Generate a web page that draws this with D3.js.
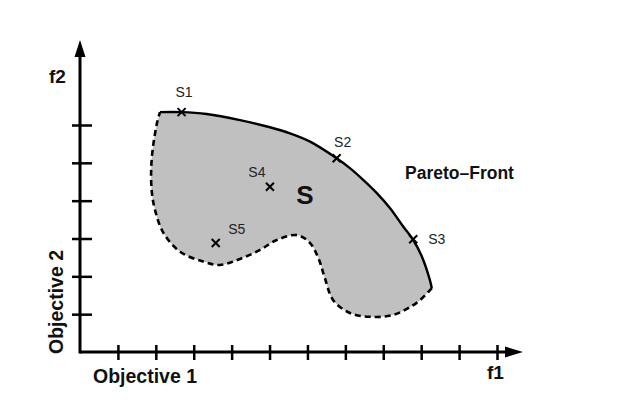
<!DOCTYPE html>
<html>
<head>
<meta charset="utf-8">
<script src="https://cdn.jsdelivr.net/npm/d3@7"></script>
<style>
  html, body { margin: 0; padding: 0; background: #fff; }
  svg { display: block; font-family: "Liberation Sans", Arial, Helvetica, sans-serif; }
</style>
</head>
<body>
<svg id="chart" width="622" height="410"></svg>
<script>
// ---- data (axis units) ----
const xTicks = [1, 2, 3, 4, 5, 6, 7, 8, 9, 10, 11];
const yTicks = [1, 2, 3, 4, 5, 6];

// Pareto front (solid upper-right boundary of the feasible set S)
const frontX = [2.11, 2.68, 3.34, 4.22, 5.01, 5.54, 6.07, 6.77, 7.12, 7.47, 7.83, 8.18, 8.53, 8.79, 9.02, 9.23, 9.28];
const frontY = [6.34, 6.34, 6.29, 6.13, 5.94, 5.78, 5.56, 5.12, 4.86, 4.55, 4.20, 3.80, 3.31, 2.96, 2.52, 1.90, 1.68];

// Remaining (dashed) boundary of S, from the end of the front back to its start
const boundX = [9.28, 9.20, 8.88, 8.26, 7.65, 7.12, 6.68, 6.46, 6.30, 6.07, 5.72, 5.19, 4.75, 4.22, 3.69, 3.25, 2.64, 2.20, 1.98, 1.89, 1.89, 2.02, 2.11];
const boundY = [1.68, 1.60, 1.30, 0.98, 0.93, 1.03, 1.37, 1.95, 2.45, 2.88, 3.09, 2.96, 2.70, 2.46, 2.30, 2.39, 2.65, 3.15, 3.75, 4.28, 5.08, 6.00, 6.34];

// Solutions
const solNames = ["S1", "S2", "S3", "S4", "S5"];
const solX = [2.68, 6.77, 8.79, 5.01, 3.58];
const solY = [6.34, 5.12, 2.98, 4.37, 2.88];

// ---- layout ----
const svg = d3.select("#chart");
const x = d3.scaleLinear().domain([0, 11]).range([80, 497]);
const y = d3.scaleLinear().domain([0, 6]).range([352, 125]);

const front = frontX.map((v, i) => [v, frontY[i]]);
const bound = boundX.map((v, i) => [v, boundY[i]]);

const line = d3.line().x(d => x(d[0])).y(d => y(d[1])).curve(d3.curveCatmullRom.alpha(0.5));

const frontPath = line(front);
const boundPath = line(bound);

// filled region S
svg.append("path")
  .attr("d", frontPath + "L" + boundPath.slice(1) + "Z")
  .attr("fill", "#c0c0c0")
  .attr("stroke", "none");

// dashed boundary
svg.append("path")
  .attr("d", boundPath)
  .attr("fill", "none")
  .attr("stroke", "#000")
  .attr("stroke-width", 2.6)
  .attr("stroke-dasharray", "6,4");

// Pareto front (solid)
svg.append("path")
  .attr("d", frontPath)
  .attr("fill", "none")
  .attr("stroke", "#000")
  .attr("stroke-width", 2.4);

// ---- axes ----
const gx = svg.append("g").attr("transform", `translate(0,${y(0)})`)
  .call(d3.axisBottom(x).tickValues(xTicks).tickFormat("").tickSizeOuter(0));
gx.select(".domain").remove();
gx.selectAll(".tick line").attr("y1", -7).attr("y2", 8).attr("stroke", "#000").attr("stroke-width", 2.5);

const gy = svg.append("g").attr("transform", `translate(${x(0)},0)`)
  .call(d3.axisLeft(y).tickValues(yTicks).tickFormat("").tickSizeOuter(0));
gy.select(".domain").remove();
gy.selectAll(".tick line").attr("x1", -8).attr("x2", 12).attr("stroke", "#000").attr("stroke-width", 2.5);

// axis lines
svg.append("line").attr("x1", x(0)).attr("x2", 508).attr("y1", y(0)).attr("y2", y(0))
  .attr("stroke", "#000").attr("stroke-width", 3);
svg.append("line").attr("x1", x(0)).attr("x2", x(0)).attr("y1", y(0) + 1.5).attr("y2", 54)
  .attr("stroke", "#000").attr("stroke-width", 3);
// arrow heads
svg.append("path")
  .attr("d", `M523,${y(0)} L505,${y(0) - 5.5} L505,${y(0) + 5.5} Z`)
  .attr("fill", "#000");
svg.append("path")
  .attr("d", `M${x(0)},40 L${x(0) - 5.5},57 L${x(0) + 5.5},57 Z`)
  .attr("fill", "#000");

// ---- solution markers ----
const labelOff = { S1: [2.5, -15, "middle"], S2: [6, -11, "middle"], S3: [15, 5, "start"], S4: [-13, -10, "middle"], S5: [21, -9, "middle"] };
solNames.forEach((n, i) => {
  const cx = x(solX[i]), cy = y(solY[i]);
  const r = 4;
  svg.append("path")
    .attr("d", `M${cx - r},${cy - r}L${cx + r},${cy + r}M${cx - r},${cy + r}L${cx + r},${cy - r}`)
    .attr("stroke", "#000").attr("stroke-width", 2);
  const o = labelOff[n];
  svg.append("text")
    .attr("x", cx + o[0]).attr("y", cy + o[1])
    .attr("text-anchor", o[2])
    .attr("font-size", 14)
    .attr("fill", "#222")
    .text(n);
});

// ---- texts ----
svg.append("text").attr("x", 305).attr("y", 204).attr("text-anchor", "middle")
  .attr("font-size", 26).attr("font-weight", "bold").attr("fill", "#111").text("S");
svg.append("text").attr("x", 405).attr("y", 179)
  .attr("font-size", 17.5).attr("font-weight", "bold").attr("fill", "#111").text("Pareto–Front");
svg.append("text").attr("x", 49).attr("y", 83)
  .attr("font-size", 19).attr("font-weight", "bold").attr("fill", "#111").text("f2");
svg.append("text").attr("x", 487).attr("y", 379)
  .attr("font-size", 19).attr("font-weight", "bold").attr("fill", "#111").text("f1");
svg.append("text").attr("x", 93).attr("y", 383)
  .attr("font-size", 19.5).attr("font-weight", "bold").attr("fill", "#111").text("Objective 1");
svg.append("text").attr("transform", "translate(63,302) rotate(-90)").attr("text-anchor", "middle")
  .attr("font-size", 19.5).attr("font-weight", "bold").attr("fill", "#111").text("Objective 2");
</script>
</body>
</html>
